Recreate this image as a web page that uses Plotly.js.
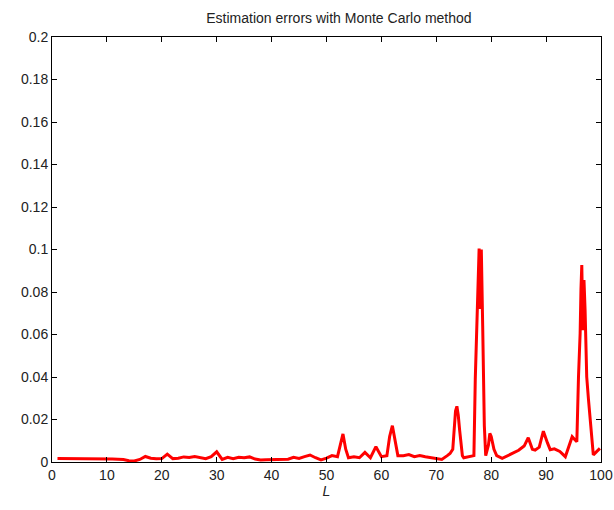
<!DOCTYPE html>
<html>
<head>
<meta charset="utf-8">
<script src="https://cdn.plot.ly/plotly-3.0.1.min.js"></script>
<style>html,body{margin:0;padding:0;background:#fff;}#chart{width:614px;height:510px;}</style>
</head>
<body>
<div id="chart"></div>
<script>
const chartTitle = "Estimation errors with Monte Carlo method";
const xLabel = "L";
const L = [
  1,2,3,4,5,6,7,8,9,10,11,12,13,14,15,16,17,18,19,20,
  21,22,23,24,25,26,27,28,29,30,31,32,33,34,35,36,37,38,39,40,
  41,42,43,44,45,46,47,48,49,50,51,52,52.5,53,53.5,54,55,56,57,58,
  59,60,61,61.5,62,62.5,63,64,65,66,67,68,69,70,71,72,72.5,73,73.25,73.5,
  73.75,74,74.25,74.5,74.75,75,76,76.5,76.85,77.1,77.35,77.6,77.8,78,78.2,78.45,
  78.75,79,79.5,79.75,80,80.5,81,82,83,84,85,86,86.75,87.5,88,88.75,89.5,90.25,
  90.75,91.5,92.5,93.5,94.25,94.75,95.25,95.6,95.9,96.2,96.35,96.5,96.7,96.9,97.1,97.4,97.7,98,98.3,98.6,
  99.2,99.8
];
const err = [
  0.0017,0.0017,0.0016,0.0017,0.0016,0.0015,0.0016,0.0017,0.0016,0.0014,0.0014,0.0013,0.0012,0.0006,0.0005,0.0012,0.0026,0.0018,0.0015,0.0016,
  0.0037,0.0016,0.0018,0.0024,0.0021,0.0026,0.0022,0.0016,0.0025,0.0048,0.0012,0.0022,0.0016,0.0022,0.0020,0.0024,0.0014,0.0010,0.0011,0.0011,
  0.0014,0.0012,0.0013,0.0022,0.0017,0.0025,0.0033,0.0020,0.0010,0.0018,0.0030,0.0025,0.0080,0.0132,0.0060,0.0020,0.0025,0.0020,0.0045,0.0020,
  0.0072,0.0025,0.0030,0.0120,0.0171,0.0100,0.0030,0.0030,0.0035,0.0025,0.0030,0.0025,0.0020,0.0015,0.0012,0.0030,0.0040,0.0060,0.0180,0.0240,
  0.0262,0.0220,0.0150,0.0070,0.0030,0.0020,0.0025,0.0030,0.0030,0.0390,0.0640,0.0870,0.1005,0.0720,0.1000,0.0640,
  0.0170,0.0030,0.0080,0.0135,0.0120,0.0060,0.0030,0.0017,0.0030,0.0040,0.0055,0.0075,0.0114,0.0060,0.0056,0.0070,0.0145,0.0090,
  0.0058,0.0062,0.0050,0.0025,0.0080,0.0119,0.0105,0.0096,0.0400,0.0606,0.0810,0.0927,0.0620,0.0856,0.0715,0.0400,0.0300,0.0213,0.0100,0.0033,
  0.0049,0.0064
];
const yTicks = [0,0.02,0.04,0.06,0.08,0.1,0.12,0.14,0.16,0.18,0.2];
const yTickText = ["0","0.02","0.04","0.06","0.08","0.1","0.12","0.14","0.16","0.18","0.2"];
const xTicks = [0,10,20,30,40,50,60,70,80,90,100];

const font = {family: "Liberation Sans, Arial, sans-serif", size: 14, color: "#222"};
Plotly.newPlot("chart", [{
  x: L, y: err, type: "scatter", mode: "lines",
  line: {color: "#ff0000", width: 3}
}], {
  width: 614, height: 510,
  margin: {l: 52, r: 13, t: 37, b: 48},
  paper_bgcolor: "#fff", plot_bgcolor: "#fff",
  showlegend: false,
  font: font,
  title: {text: chartTitle, x: 0.552, xanchor: "center", y: 0.965, yanchor: "middle", font: {family: font.family, size: 14, color: "#222"}},
  xaxis: {
    range: [0, 100], tickvals: xTicks, ticks: "inside", ticklen: 5, tickcolor: "#000",
    showline: true, linecolor: "#000", linewidth: 1, mirror: "ticks", showgrid: false, zeroline: false,
    tickfont: {family: font.family, size: 14, color: "#222"},
    title: {text: xLabel, font: {family: font.family, size: 14, color: "#222", style: "italic"}, standoff: 4}
  },
  yaxis: {
    range: [0, 0.2], tickvals: yTicks, ticktext: yTickText, ticks: "inside", ticklen: 5, tickcolor: "#000",
    showline: true, linecolor: "#000", linewidth: 1, mirror: "ticks", showgrid: false, zeroline: false,
    tickfont: {family: font.family, size: 14, color: "#222"}
  }
}, {displayModeBar: false, staticPlot: true});
</script>
</body>
</html>
